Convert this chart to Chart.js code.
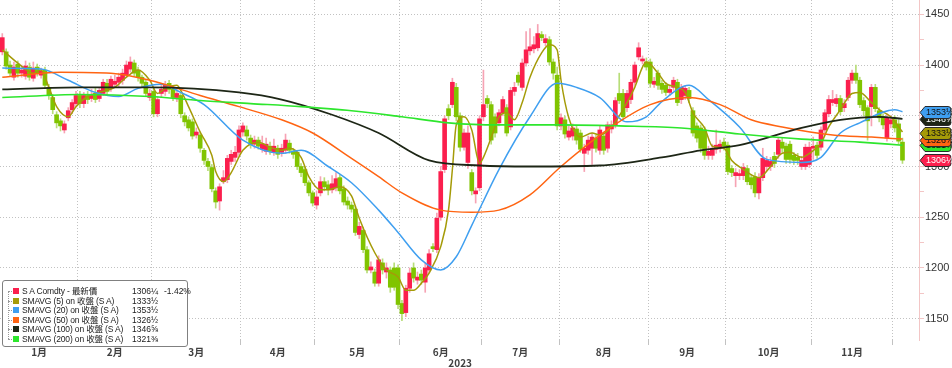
<!DOCTYPE html>
<html>
<head>
<meta charset="utf-8">
<title>S A Comdty</title>
<script src="https://cdn.jsdelivr.net/npm/chart.js@4.4.1/dist/chart.umd.min.js"></script>
<style>
  html, body { margin: 0; padding: 0; background: #fff; }
  #wrap { position: relative; width: 952px; height: 368px; overflow: hidden; }
  #legend {
    position: absolute; left: 2px; top: 280px; width: 186px; height: 67px; box-sizing: border-box;
    border: 1px solid #808080; border-radius: 3px; background: #fff;
    font-family: "Liberation Sans", "Noto Sans CJK TC", sans-serif; font-size: 8.5px; color: #1a1a1a;
  }
  #legend .row { position: absolute; left: 0; width: 184px; height: 10px; line-height: 10px; white-space: nowrap; }
  #legend .tk { position: absolute; left: 5px; top: 5px; width: 4px; border-top: 1px dotted #999; }
  #legend .sw { position: absolute; left: 10px; top: 2px; width: 6px; height: 6px; }
  #legend .nm { position: absolute; left: 19px; letter-spacing: -0.15px; }
  #legend .vl { position: absolute; left: 129px; }
  #legend .ch { position: absolute; left: 161px; }
  #tree { position: absolute; left: 5px; top: 10px; height: 48px; border-left: 1px dotted #999; }
</style>
</head>
<body>
<div id="wrap">
  <canvas id="chart" width="952" height="368"></canvas>
  <div id="legend"><div id="tree"></div></div>
</div>
<script>
// months on the axis and trading days in each (Dec is only partly shown)
const monthLabels = ['1月', '2月', '3月', '4月', '5月', '6月', '7月', '8月', '9月', '10月', '11月'];
const monthDays = [20, 19, 23, 19, 22, 21, 20, 23, 20, 22, 21, 3];
const yearLabel = '2023';

// daily candles
const opens = [
  1413,1413,1400,1388,1401,1392,1389,1398,1387,1398,1390,1395,1378,1368,1351,1345,1336,1348,1356,1362,
  1370,1362,1370,1367,1372,1367,1372,1382,1377,1381,1383,1385,1390,1396,1402,1395,1388,1383,1368,
  1374,1352,1372,1374,1382,1376,1368,1370,1350,1346,1344,1331,1331,1316,1305,1299,1276,1266,1285,1287,1305,1309,1314,
  1334,1336,1328,1322,1326,1317,1315,1320,1314,1318,1314,1316,1323,1315,1314,1300,1297,1284,1274,
  1262,1274,1285,1282,1277,1279,1289,1278,1266,1262,1258,1233,1237,1218,1198,1196,1185,1205,1196,1198,1200,1200,
  1165,1156,1180,1200,1188,1194,1186,1198,1221,1218,1250,1297,1357,1361,1378,1350,1319,1304,1294,1273,1279,
  1349,1367,1361,1349,1343,1353,1358,1339,1374,1390,1378,1402,1414,1416,1417,1430,1422,1425,1403,1390,
  1340,1346,1329,1330,1337,1333,1313,1316,1318,1328,1316,1330,1318,1337,1341,1372,1372,1358,1366,1383,1408,1404,1403,
  1403,1381,1392,1382,1380,1373,1378,1383,1366,1370,1375,1355,1340,1338,1336,1311,1311,1317,1318,1324,
  1321,1298,1291,1291,1291,1298,1289,1290,1274,1289,1300,1300,1310,1312,1324,1320,1322,1311,1309,1300,1300,1302,
  1318,1321,1319,1336,1352,1363,1362,1367,1358,1368,1385,1392,1385,1365,1358,1359,1378,1355,1349,1328,1342,
  1346,1342,1324
];
const highs = [
  1431,1416,1404,1403,1404,1400,1404,1402,1403,1401,1397,1398,1381,1371,1354,1347,1345,1358,1366,1374,
  1374,1373,1374,1376,1377,1378,1386,1386,1389,1390,1392,1396,1404,1408,1405,1398,1390,1385,1376,
  1378,1369,1380,1384,1385,1379,1376,1373,1353,1349,1347,1338,1334,1318,1308,1302,1279,1283,1296,1311,1316,1320,1340,
  1343,1340,1331,1330,1329,1330,1328,1324,1327,1321,1322,1332,1326,1318,1316,1303,1300,1286,1276,
  1276,1290,1289,1286,1291,1294,1292,1281,1270,1265,1261,1245,1240,1221,1206,1199,1212,1209,1205,1201,1205,1203,
  1168,1183,1200,1205,1196,1198,1205,1218,1224,1254,1300,1350,1361,1387,1382,1353,1337,1340,1297,1279,1350,
  1395,1370,1364,1352,1356,1369,1361,1378,1383,1393,1406,1433,1436,1428,1440,1433,1430,1428,1406,1398,
  1352,1350,1340,1342,1340,1336,1322,1330,1333,1331,1340,1333,1344,1345,1368,1392,1376,1375,1386,1403,1422,1409,1407,
  1406,1388,1395,1385,1383,1380,1388,1386,1381,1380,1378,1358,1343,1341,1339,1320,1322,1336,1326,1328,
  1324,1301,1298,1297,1303,1301,1292,1294,1293,1318,1310,1309,1314,1328,1328,1323,1325,1314,1313,1310,1322,1324,
  1329,1324,1339,1356,1370,1375,1371,1370,1366,1388,1395,1400,1388,1368,1360,1381,1381,1358,1352,1352,1350,
  1350,1346,1328
];
const lows = [
  1410,1396,1389,1385,1388,1388,1386,1385,1384,1389,1387,1377,1366,1352,1338,1335,1333,1345,1352,1359,
  1358,1358,1362,1364,1363,1364,1370,1371,1374,1378,1378,1381,1388,1393,1389,1384,1378,1369,1365,
  1349,1349,1368,1370,1372,1365,1364,1348,1340,1335,1327,1328,1314,1302,1296,1275,1259,1257,1283,1284,1302,1305,1311,
  1330,1326,1318,1318,1317,1314,1312,1312,1311,1308,1310,1313,1313,1308,1297,1290,1281,1271,1261,
  1258,1271,1276,1272,1274,1276,1273,1262,1258,1255,1232,1229,1215,1195,1195,1182,1182,1194,1190,1176,1178,1160,
  1148,1152,1176,1186,1184,1184,1176,1195,1216,1215,1247,1294,1346,1358,1345,1315,1316,1298,1272,1264,1276,
  1345,1358,1322,1329,1340,1350,1330,1336,1370,1380,1375,1399,1410,1412,1414,1424,1419,1400,1386,1336,
  1336,1328,1326,1326,1322,1314,1295,1312,1302,1314,1312,1312,1314,1333,1338,1362,1346,1354,1362,1380,1405,1401,1395,
  1378,1378,1376,1372,1370,1370,1375,1360,1362,1366,1363,1330,1324,1314,1307,1307,1307,1313,1314,1316,
  1292,1290,1280,1287,1287,1282,1278,1270,1268,1286,1296,1296,1299,1308,1314,1303,1303,1302,1302,1297,1297,1299,
  1307,1308,1316,1333,1349,1360,1359,1351,1354,1365,1382,1382,1358,1350,1326,1340,1354,1344,1337,1325,1338,
  1334,1322,1303
];
const closes = [
  1427,1399,1392,1398,1392,1395,1399,1388,1397,1392,1394,1380,1370,1356,1343,1340,1342,1355,1363,1370,
  1362,1370,1366,1371,1366,1375,1383,1374,1386,1384,1388,1392,1400,1403,1392,1388,1382,1372,1372,
  1352,1366,1376,1380,1376,1368,1372,1352,1344,1338,1330,1334,1318,1306,1300,1278,1265,1280,1289,1308,1312,1314,1336,
  1340,1330,1322,1326,1320,1322,1322,1315,1320,1312,1318,1326,1316,1312,1300,1294,1284,1274,1264,
  1270,1285,1280,1277,1283,1288,1276,1265,1262,1258,1235,1241,1218,1198,1201,1185,1208,1198,1200,1181,1181,1164,
  1155,1180,1195,1190,1191,1188,1200,1214,1219,1249,1295,1347,1350,1383,1349,1319,1333,1333,1276,1276,1347,
  1361,1362,1326,1333,1353,1366,1333,1375,1378,1383,1402,1415,1418,1420,1431,1427,1426,1403,1392,1340,
  1348,1332,1335,1338,1326,1317,1318,1326,1329,1318,1336,1316,1341,1341,1365,1365,1349,1372,1383,1400,1417,1406,1398,
  1382,1384,1380,1376,1373,1376,1385,1363,1378,1377,1367,1333,1328,1318,1311,1315,1318,1321,1322,1320,
  1295,1294,1294,1293,1299,1285,1282,1274,1289,1308,1306,1305,1303,1326,1318,1307,1307,1306,1306,1306,1319,1319,
  1320,1311,1336,1353,1366,1366,1367,1354,1362,1385,1392,1385,1361,1355,1345,1378,1357,1348,1341,1348,1346,
  1338,1325,1306.25
];

// moving averages, sampled along the lines (trading-day index, value)
const ma5Days = [0,4,8,10,12,14,17,19,22,25,29,32,35,38,40,42,45,46,48,51,54,55,57,59,62,66,69,72,74,77,
  79,82,84,87,90,92,96,99,102,104,106,108,110,113,115,116,117,119,121,123,124,127,128,130,132,134,136,139,141,143,
  144,146,149,152,154,157,160,163,165,166,169,171,174,176,178,181,183,186,188,191,194,195,198,201,203,206,208,211,213,216,
  219,221,224,226,229,232];
const ma5Vals = [1415,1402,1392,1395,1378,1359,1349,1359,1369,1373,1378,1388,1395,1385,1372,1377,1380,1375,1359,1334,
  1311,1295,1285,1294,1316,1324,1319,1316,1318,1309,1290,1277,1277,1280,1271,1249,1215,1198,1191,1178,
  1178,1185,1195,1221,1257,1297,1341,1349,1336,1303,1309,1339,1349,1353,1346,1363,1388,1412,1420,1415,
  1385,1348,1329,1333,1331,1339,1356,1378,1398,1403,1392,1382,1378,1373,1353,1338,1320,1318,1306,1297,
  1290,1289,1300,1313,1314,1309,1313,1323,1339,1356,1372,1373,1363,1356,1349,1334];
const ma20Days = [0,10,17,24,30,35,41,46,52,62,72,77,84,90,97,102,108,113,117,121,128,136,143,148,154,161,166,170,177,182,190,197,206,211,216,221,230,232];
const ma20Vals = [1397,1396,1385,1373,1369,1377,1381,1373,1361,1326,1313,1316,1300,1284,1257,1235,1208,1198,1211,1242,
  1297,1349,1382,1378,1368,1344,1349,1364,1380,1366,1339,1307,1304,1309,1333,1343,1356,1354];
const ma50Days = [0,15,28,38,51,61,72,80,90,97,103,113,121,128,136,144,157,167,177,185,193,201,214,224,232];
const ma50Vals = [1388,1393,1392,1385,1370,1359,1346,1333,1308,1290,1274,1257,1255,1257,1272,1300,1339,1361,1368,1361,1346,1339,1331,1329,1327];
const ma100Days = [0,20,38,61,72,85,97,110,123,136,154,170,180,190,206,216,226,232];
const ma100Vals = [1376,1378,1378,1373,1366,1351,1333,1306,1301,1300,1301,1309,1316,1321,1338,1346,1349,1347];
const ma200Days = [0,20,38,51,64,77,90,103,115,128,144,159,175,190,206,221,232];
const ma200Vals = [1368,1371,1369,1365,1362,1359,1355,1349,1343,1341,1341,1340,1338,1332,1327,1324,1321];

// legend rows and right-hand value tags
const legendNames = ['S A Comdty - 最新價', 'SMAVG (5) on 收盤 (S A)', 'SMAVG (20) on 收盤 (S A)',
  'SMAVG (50) on 收盤 (S A)', 'SMAVG (100) on 收盤 (S A)', 'SMAVG (200) on 收盤 (S A)'];
const legendValues = ['1306¼', '1333½', '1353½', '1326½', '1346⅝', '1321⅜'];
const lastChange = '-1.42%';
const tagValues = [1321.375, 1326.5, 1346.625, 1333.5, 1353.5, 1306.25];
const tagText = ['1321⅜', '1326½', '1346⅝', '1333½', '1353½', '1306¼'];

const UP = '#fb1f4d', DOWN = '#80c400', UP_WICK = '#f6a3b4', DOWN_WICK = '#b7dd78';
const C_MA5 = '#a59b08', C_MA20 = '#3f9ff0', C_MA50 = '#ff6412', C_MA100 = '#1d2616', C_MA200 = '#2de62d';
const legendColors = [UP, C_MA5, C_MA20, C_MA50, C_MA100, C_MA200];
const tagFill = [C_MA200, C_MA50, C_MA100, C_MA5, C_MA20, UP];
const tagInk = ['#111', '#111', '#fff', '#111', '#111', '#fff'];

// legend box
const legendEl = document.getElementById('legend');
legendNames.forEach((name, k) => {
  const row = document.createElement('div');
  row.className = 'row';
  row.style.top = (5 + k * 9.6) + 'px';
  row.innerHTML = '<span class="tk"></span><span class="sw" style="background:' + legendColors[k] + '"></span>' +
    '<span class="nm">' + name + '</span><span class="vl">' + legendValues[k] + '</span>' +
    (k === 0 ? '<span class="ch">' + lastChange + '</span>' : '');
  legendEl.appendChild(row);
});

// x ticks: month boundaries carry the grid, month middles carry the labels
const xTicks = [];
const xLabels = new Map();
const gridAt = new Set();
let start = 0;
monthDays.forEach((d, m) => {
  if (m < monthLabels.length) {
    const mid = start + (d - 1) / 2;
    xTicks.push(mid);
    xLabels.set(mid, monthLabels[m]);
  }
  start += d;
  if (m < monthDays.length - 1) {
    xTicks.push(start - 0.5);
    gridAt.add(start - 0.5);
  }
});
xTicks.push(118);
xLabels.set(118, ['', yearLabel]);
xTicks.sort((a, b) => a - b);

const up = i => closes[i] >= opens[i];
const bodies = closes.map((c, i) => ({ x: i, y: [opens[i], c] }));
const wicks = closes.map((c, i) => ({ x: i, y: [lows[i], highs[i]] }));
const maLine = (days, vals, color, width) => ({
  type: 'line',
  data: days.map((d, k) => ({ x: d, y: vals[k] })),
  borderColor: color,
  borderWidth: width,
  pointRadius: 0,
  cubicInterpolationMode: 'monotone',
  order: 0
});

const priceTags = {
  id: 'priceTags',
  afterDraw(chart) {
    const ctx = chart.ctx;
    const ys = chart.scales.y;
    const left = chart.chartArea.right + 1;
    ctx.save();
    ctx.font = '9px "Liberation Sans", sans-serif';
    ctx.textBaseline = 'middle';
    tagValues.forEach((v, k) => {
      const y = Math.round(ys.getPixelForValue(v)) + 0.5;
      ctx.beginPath();
      ctx.moveTo(left, y);
      ctx.lineTo(left + 5, y - 6);
      ctx.lineTo(left + 28, y - 6);
      ctx.arcTo(left + 31, y - 6, left + 31, y, 3);
      ctx.arcTo(left + 31, y + 6, left + 28, y + 6, 3);
      ctx.lineTo(left + 5, y + 6);
      ctx.closePath();
      ctx.fillStyle = tagFill[k];
      ctx.fill();
      ctx.strokeStyle = '#2a2a2a';
      ctx.lineWidth = 1;
      ctx.stroke();
      ctx.fillStyle = tagInk[k];
      ctx.fillText(tagText[k], left + 6, y + 0.5);
    });
    ctx.restore();
  }
};

new Chart(document.getElementById('chart'), {
  type: 'bar',
  data: {
    datasets: [
      maLine(ma200Days, ma200Vals, C_MA200, 1.6),
      maLine(ma100Days, ma100Vals, C_MA100, 1.8),
      maLine(ma50Days, ma50Vals, C_MA50, 1.5),
      maLine(ma20Days, ma20Vals, C_MA20, 1.5),
      maLine(ma5Days, ma5Vals, C_MA5, 1.5),
      {
        data: bodies,
        backgroundColor: c => up(c.dataIndex) ? UP : DOWN,
        barThickness: 4,
        grouped: false,
        order: 1
      },
      {
        data: wicks,
        backgroundColor: c => up(c.dataIndex) ? UP_WICK : DOWN_WICK,
        barThickness: 1,
        grouped: false,
        order: 2
      }
    ]
  },
  options: {
    responsive: false,
    animation: false,
    events: [],
    layout: { padding: 0 },
    plugins: { legend: { display: false }, tooltip: { enabled: false } },
    scales: {
      x: {
        type: 'linear',
        min: -0.59,
        max: 236.26,
        offset: false,
        grid: {
          offset: false,
          color: c => gridAt.has(c.tick && c.tick.value) ? '#c2c2c2' : 'rgba(0,0,0,0)',
          tickLength: 5
        },
        border: { display: false, dash: [1, 2] },
        ticks: {
          autoSkip: false,
          maxRotation: 0,
          padding: 2,
          color: '#404040',
          font: { family: '"Noto Sans CJK TC", "Liberation Sans", sans-serif', size: 10, weight: 'bold', lineHeight: 1.1 },
          callback: v => xLabels.has(v) ? xLabels.get(v) : ''
        },
        afterBuildTicks: s => { s.ticks = xTicks.map(v => ({ value: v })); },
        afterFit: s => { s.height = 28; s.paddingLeft = 0; s.paddingRight = 0; }
      },
      y: {
        position: 'right',
        min: 1129,
        max: 1464.1,
        beginAtZero: false,
        grid: {
          color: c => (c.tick && c.tick.value % 50 === 0) ? '#c2c2c2' : 'rgba(0,0,0,0)',
          tickColor: '#f3c6c6',
          tickLength: 5,
          tickBorderDash: []
        },
        border: { display: true, color: '#f3c6c6', dash: [1, 2] },
        ticks: {
          padding: 1,
          color: '#333',
          font: { family: '"Liberation Sans", sans-serif', size: 11 },
          callback: v => v % 50 === 0 ? String(v) : ''
        },
        afterBuildTicks: s => {
          const t = [];
          for (let v = 1150; v <= 1450; v += 25) t.push({ value: v });
          s.ticks = t;
        },
        afterFit: s => { s.width = 33; s.paddingTop = 0; s.paddingBottom = 0; }
      }
    }
  },
  plugins: [priceTags]
});
</script>
</body>
</html>
